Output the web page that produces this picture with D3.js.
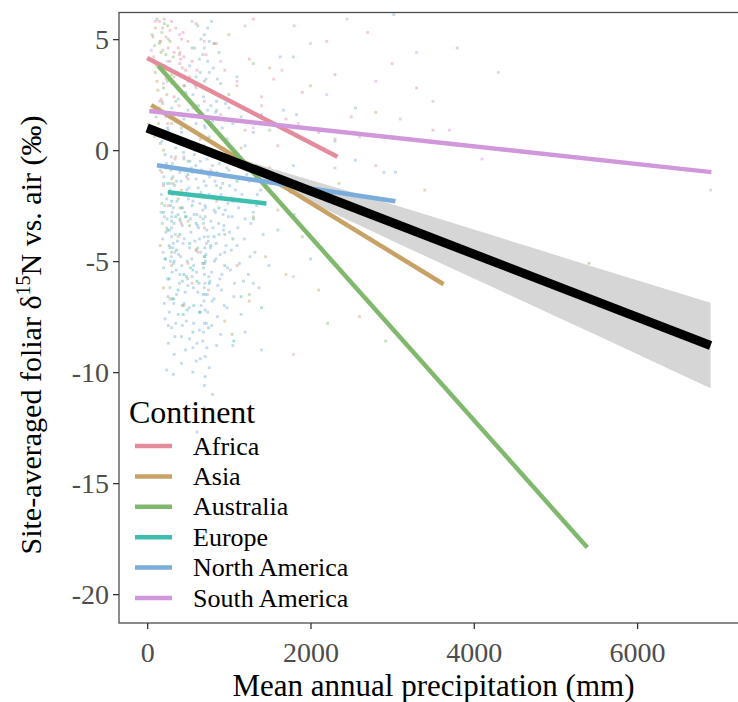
<!DOCTYPE html>
<html>
<head>
<meta charset="utf-8">
<script src="https://cdn.jsdelivr.net/npm/d3@7"></script>
<style>
  html, body { margin: 0; padding: 0; background: #fff; }
  svg { display: block; font-family: "Liberation Serif", "Times New Roman", serif; }
</style>
</head>
<body>
<svg id="chart" width="738" height="702"></svg>
<script>
// Continents in legend order, with their colours
const continents = ["Africa", "Asia", "Australia", "Europe", "North America", "South America"];
const continentColors = ["#E58C9C", "#C8A265", "#80B96E", "#3DBEAE", "#7BADDC", "#D197DB"];

// Per-continent regression lines: [x start, x end] in mm, [y start, y end] in per mil
const fitX = {
  "Africa": [0, 2330],
  "Asia": [50, 3630],
  "Australia": [135, 5390],
  "Europe": [255, 1460],
  "North America": [120, 3040],
  "South America": [25, 6910]
};
const fitY = {
  "Africa": [4.15, -0.3],
  "Asia": [2.03, -6.04],
  "Australia": [3.8, -17.9],
  "Europe": [-1.9, -2.4],
  "North America": [-0.68, -2.3],
  "South America": [1.76, -0.99]
};

// Overall regression line and its confidence band
const overallX = [0, 6900];
const overallY = [1.0, -8.8];
const bandX = [0, 500, 1000, 1500, 2000, 3000, 4000, 5000, 6000, 6900];
const bandLow = [0.75, 0.14, -0.62, -1.46, -2.34, -4.08, -5.78, -7.48, -9.18, -10.73];
const bandHigh = [1.25, 0.44, -0.22, -0.80, -1.34, -2.44, -3.58, -4.72, -5.86, -6.87];

// Site-averaged observations [precipitation mm, d15N per mil]
const pointsAfrica = [[150,5.8],[280,5.4],[420,5.0],[380,4.6],[450,4.2],[400,3.9],[360,3.5],[520,3.3],[300,3.0],[600,2.8],[480,2.5],[700,2.2],[560,1.9],[820,4.8],[950,3.6],[1100,2.9],[1250,4.1],[1400,2.4],[1550,3.2],[1700,1.4],[1900,2.6],[2100,0.8],[2300,3.4],[2500,1.5],[2800,-0.7],[3300,2.8],[3500,0.9],[3800,4.6],[1200,0.9],[900,1.6],[650,0.5],[250,1.2],[180,2.2],[340,-0.4],[500,-1.3],[780,-0.9],[1000,-2.2],[420,-3.3],[620,-4.6],[200,-1.6],[1300,5.9],[1800,5.6],[2200,4.9],[2700,5.3],[3000,3.9],[1600,0.2],[410,4.1],[395,4.3],[430,3.7],[385,3.4],[460,2.9],[230,5.1],[330,4.4],[470,3.6],
  [160,4.9],[210,3.8],[260,4.6],[300,5.8],[350,5.5],[440,5.3],[500,4.9],[550,4.0],[330,2.4],[270,3.3],[190,5.5],[610,3.6],[720,4.3],[390,2.0]];
const pointsAsia = [[100,5.5],[160,4.9],[80,4.2],[200,3.6],[120,3.1],[240,2.5],[150,1.9],[300,1.2],[90,0.6],[350,-0.3],[180,-1.0],[420,-1.8],[260,-2.5],[500,-3.2],[380,-3.9],[600,-4.5],[700,-3.5],[850,-2.3],[1000,-1.2],[1150,0.1],[1300,-3.0],[1450,-4.8],[1600,-2.7],[1900,-3.9],[2100,-6.3],[2350,-1.5],[2600,-7.5],[1700,-5.6],[1250,-6.8],[3400,-1.8],[2800,1.7],[2000,2.9],[1500,3.7],[850,4.8],[600,5.7],[1000,5.2],[400,4.4],[2300,0.5],[3200,-4.0],[2900,-3.1],[950,-7.7],[550,-6.0],[300,-5.2],[450,-7.0],[750,-6.3],[1100,-5.2],[1500,-0.8],[1750,-1.9],[210,5.9],[130,2.7],
  [70,5.1],[110,3.8],[190,4.5],[230,3.2],[170,2.3],[280,4.0],[330,3.3],[260,5.0],[140,1.2],[200,0.0],[320,-1.5],[240,-3.5],[400,-2.6],[160,-4.3],[280,-6.7],[500,-5.1],[650,-3.0],[200,-6.2]];
const pointsAustralia = [[120,5.9],[180,5.3],[90,4.7],[230,4.3],[140,3.9],[300,3.4],[200,2.8],[350,2.2],[260,1.6],[420,1.0],[160,0.3],[500,-0.5],[300,-1.3],[650,-2.0],[400,-3.1],[800,-1.0],[950,-3.8],[1100,-0.2],[550,4.6],[700,3.1],[850,1.8],[1000,2.5],[1300,3.9],[1500,0.9],[620,-4.4],[480,-5.7],[1250,-6.5],[2210,-7.8],[2920,-8.6],[5410,-5.1],[1040,-8.3],[250,5.6],[170,4.4],
  [60,5.2],[100,3.5],[150,4.8],[210,5.7],[250,3.1],[280,4.9],[320,4.2],[190,2.1],[110,1.5],[230,-0.8],[350,0.5],[380,-2.2],[450,2.9],[600,2.0],[520,-3.4],[700,-5.1],[300,-4.6],[180,-2.4]];
const pointsEurope = [[250,-1.5],[300,-2.3],[350,-3.0],[400,-3.8],[280,-4.4],[330,-5.0],[450,-5.6],[520,-4.2],[600,-3.3],[650,-2.1],[700,-4.8],[760,-6.0],[820,-3.9],[880,-2.6],[950,-5.2],[1050,-4.0],[1150,-6.6],[1300,-3.1],[380,-6.3],[430,-7.0],[560,-5.4],[640,-7.3],[750,-8.0],[250,-3.6],[300,-0.8],[500,-1.1],[900,-1.7],[1400,-7.1],[1100,-1.4],[200,-2.8],[530,-5.3],[430,-5.9],[490,-7.2],[570,-7.0],[440,-7.4],[650,-7.3],[560,-8.2],[1060,-8.6],
  [220,-4.9],[270,-5.8],[320,-6.7],[360,-4.5],[470,-3.0],[610,-5.9],[690,-6.5],[780,-4.3],[370,-1.9],[420,-2.6],[550,-2.5],[300,-3.2]];
const pointsNorthAmerica = [[620,5.6],[700,5.2],[760,4.9],[580,4.6],[680,4.3],[740,4.0],[810,3.7],[650,3.5],[720,3.2],[590,2.9],[770,2.7],[690,2.4],[850,2.2],[630,2.0],[740,1.8],[560,1.5],[800,1.3],[900,3.0],[960,2.1],[1050,1.2],[520,3.8],[470,2.6],[880,4.4],[1100,3.3],[300,1.9],[380,2.3],[250,1.0],[420,0.8],[980,0.5],[1200,0.2],
  [180,0.4],[220,-0.2],[260,0.9],[310,-0.6],[350,0.1],[400,-1.0],[450,-0.4],[500,0.3],[540,-0.8],[600,-1.3],[650,-0.5],[700,0.2],[750,-1.1],[800,-0.7],[850,-1.6],[900,-0.3],[950,-1.2],[1000,-0.9],[1080,-1.8],[1150,-0.6],[1250,-1.4],[1350,-2.0],[1450,-1.1],[200,-1.5],[240,-2.2],[280,-1.8],[320,-2.6],[360,-1.4],[410,-2.0],[460,-2.8],[510,-1.7],[560,-2.3],[610,-2.9],[660,-1.9],[710,-2.5],[760,-2.0],[820,-2.7],[870,-2.2],[930,-2.9],[990,-2.4],[1040,-3.0],[1120,-2.6],[1200,-3.1],[1300,-2.8],[170,-2.8],[210,-3.0],[290,-0.9],[330,-3.3],[380,-2.9],[430,-3.4],[480,-1.2],[530,-3.1],[580,-0.2],[630,-3.5],[680,-2.7],[730,-3.6],[780,-3.2],[830,-1.4],[880,-3.8],[940,-3.4],[1010,-3.7],
  [190,-4.0],[230,-3.7],[270,-4.3],[300,-3.9],[340,-4.6],[370,-4.1],[410,-4.8],[440,-4.2],[490,-5.0],[520,-4.4],[570,-5.2],[600,-4.5],[640,-4.0],[690,-5.3],[720,-4.7],[750,-4.1],[790,-5.5],[840,-4.9],[890,-5.8],[950,-4.6],[1020,-5.4],[1100,-4.3],[1180,-5.9],[1260,-4.8],[200,-5.3],[250,-5.8],[280,-6.2],[320,-5.1],[360,-6.5],[400,-5.6],[450,-6.9],[500,-6.1],[550,-5.7],[620,-6.4],[660,-7.0],[700,-6.2],[740,-7.3],[770,-5.9],[820,-6.7],[860,-7.5],[910,-6.3],[980,-7.1],[1060,-6.6],[1150,-7.4],[1300,-6.0],
  [220,-7.6],[300,-8.0],[260,-8.7],[350,-7.8],[420,-8.4],[480,-7.7],[560,-8.9],[640,-8.1],[700,-7.8],[710,-9.3],[680,-8.6],[760,-9.8],[600,-9.5],[330,-9.2],[240,-9.9],[710,-10.2],[700,-10.6],[610,-12.7],[900,-8.3],[1050,-8.8],[1200,-8.2],[1400,-9.0],[800,-11.0],
  [705,-2.1],[712,-3.0],[698,-3.9],[706,-4.4],[715,-5.0],[702,-5.6],[708,-6.0],[696,-6.8],[710,-7.2],[704,-1.0],[700,-0.1],[712,1.0],[300,-3.0],[310,-2.0],[295,-4.8],[305,-5.5],[315,-1.2],[290,-2.5],[720,-1.6],[690,-3.3],[725,-4.2],[695,-5.1],[718,-6.5],[300,-3.5],[285,-1.5],[320,-4.2],
  [1630,4.2],[1790,4.2],[1670,1.8],[1830,1.6],[2550,1.9],[3040,-1.0],[2550,-0.45],[1790,-0.7],[3020,6.1],[1600,-3.6],[1800,-2.9],[2000,-4.9],[2300,0.4],[3200,-4.2],[2900,-1.0],[2500,-2.0],
  [160,-0.9],[175,-2.0],[185,-3.3],[195,-4.6],[205,-1.2],[215,-2.5],[225,-4.9],[235,-0.6],[245,-3.1],[255,-6.6],[265,-1.9],[275,-3.6],[285,-5.0],[295,-0.3],[305,-2.8],[315,-4.4],[325,-6.9],[335,-1.6],[345,-3.8],[355,-5.4],[365,-2.3],[375,-0.8],[385,-4.7],[395,-6.0],[405,-3.2],[415,-1.4],[425,-5.2],[435,-2.6],[445,-0.1],[455,-4.0],[465,-6.4],[475,-3.0],[485,-1.8],[495,-5.8],[505,-2.2],[515,-7.1],[525,-0.5],[535,-3.7],[545,-4.9],[555,-1.0],[565,-6.2],[575,-2.9],[585,-4.1],[595,-0.7],[605,-5.5],[615,-3.4],[625,-1.7],[635,-6.0],[645,-2.4],[655,-4.6],[665,-0.9],[675,-5.1],[685,-3.1],[695,-1.4],[705,-4.8],[715,-2.6],[725,-7.8],[735,-0.4],[745,-3.9],[755,-5.7],[765,-1.2],[775,-4.4],[785,-2.1],[795,-6.8],[805,-3.5],[815,-0.2],[825,-5.0],[835,-2.8],[845,-4.2],[855,-1.0],[865,-6.1],[875,-3.3],[885,-0.6],[895,-4.7],[905,-2.0],[915,-5.6],[925,-1.5],[935,-3.6],[945,-7.0],[955,-2.7],[965,-4.3],[975,-0.8],[985,-5.3],[995,-3.0],[1010,-1.6],[1030,-4.5],[1050,-2.3],[1070,-6.0],[1090,-0.4],[1110,-3.5],[1130,-5.1],[1160,-2.0],[1190,-4.0],[1220,-1.1],[1240,-5.6],[1270,-3.3],[1290,-0.7],[1320,-4.6],[1340,-2.5],[1370,-6.2],[1390,-1.8],[1420,-3.8],[1460,-0.9],[1490,-5.2],
  [560,2.5],[600,3.3],[640,4.1],[660,5.0],[700,4.6],[720,2.8],[760,3.5],[780,2.0],[820,4.8],[840,1.7],[860,3.2],[680,1.6],[740,5.5],[790,5.8],[700,1.1],[640,0.7],[600,1.2],[500,1.8],[450,1.4],[350,1.3],[280,0.6],[230,1.5],[920,1.0],[1000,1.9],[1150,1.5],[1300,0.8],[1400,1.6],[760,0.6],[830,0.9],[580,0.0],
  [210,-6.9],[270,-7.3],[310,-6.7],[340,-8.4],[380,-7.4],[430,-7.9],[470,-9.0],[520,-8.5],[570,-7.8],[610,-8.7],[650,-9.4],[690,-8.2],[730,-8.9],[790,-7.9],[850,-8.8],[320,-10.1],[560,-10.0],[700,-11.6],[420,-9.6],[260,-7.9]];
const pointsSouthAmerica = [[50,4.5],[200,3.0],[400,5.2],[600,1.8],[900,4.0],[1200,5.6],[1400,2.0],[1650,3.6],[1850,1.2],[2000,4.8],[2200,2.5],[2450,5.9],[2600,0.6],[2800,3.1],[3100,1.4],[3300,4.4],[3500,2.2],[3700,0.9],[4300,3.5],[4100,-0.4],[6900,-1.8],[1000,-0.5],[300,0.7],[1600,-1.2],[2300,-0.8],[740,-6.5],[1790,-5.7],[1790,-9.2],
  [100,5.8],[150,2.2],[250,4.0],[500,3.1],[700,4.9],[800,0.3],[1100,3.1],[1300,1.0],[550,5.8],[450,-0.3]];

const xTicks = [0, 2000, 4000, 6000];
const yTicks = [5, 0, -5, -10, -15, -20];

const svg = d3.select("#chart");
const panel = { left: 119, right: 740, top: 12.5, bottom: 623 };

const x = d3.scaleLinear().domain([-345, 7260]).range([panel.left, panel.right]);
const y = d3.scaleLinear().domain([-21.3, 6.2]).range([panel.bottom, panel.top]);
const color = d3.scaleOrdinal().domain(continents).range(continentColors);

svg.append("defs").append("clipPath").attr("id", "panel-clip")
  .append("rect")
  .attr("x", panel.left).attr("y", panel.top)
  .attr("width", panel.right - panel.left).attr("height", panel.bottom - panel.top);

const plot = svg.append("g").attr("clip-path", "url(#panel-clip)");

// Scatter of observations
const pointSets = {
  "Africa": pointsAfrica,
  "Asia": pointsAsia,
  "Australia": pointsAustralia,
  "Europe": pointsEurope,
  "North America": pointsNorthAmerica,
  "South America": pointsSouthAmerica
};
const drawOrder = ["North America", "Europe", "Asia", "Australia", "Africa", "South America"];
drawOrder.forEach(c => {
  plot.append("g").selectAll("rect")
    .data(pointSets[c])
    .join("rect")
    .attr("x", d => x(d[0]) - 1.4)
    .attr("y", d => y(d[1]) - 1.4)
    .attr("width", 2.8)
    .attr("height", 2.8)
    .attr("fill", color(c))
    .attr("fill-opacity", 0.45);
});

// Confidence band of the overall fit
const band = bandX.map((v, i) => ({ x: v, lo: bandLow[i], hi: bandHigh[i] }));
plot.append("path")
  .datum(band)
  .attr("fill", "#D6D6D6")
  .attr("d", d3.area().x(d => x(d.x)).y0(d => y(d.lo)).y1(d => y(d.hi)).curve(d3.curveMonotoneX));

// Per-continent fits
const line = d3.line().x(d => x(d[0])).y(d => y(d[1]));
continents.forEach(c => {
  const pts = fitX[c].map((v, i) => [v, fitY[c][i]]);
  plot.append("path")
    .datum(pts)
    .attr("fill", "none")
    .attr("stroke", color(c))
    .attr("stroke-width", 4.5)
    .attr("d", line);
});

// Overall fit
plot.append("path")
  .datum(overallX.map((v, i) => [v, overallY[i]]))
  .attr("fill", "none")
  .attr("stroke", "#000")
  .attr("stroke-width", 9)
  .attr("d", line);

// Panel border
svg.append("rect")
  .attr("x", panel.left).attr("y", panel.top)
  .attr("width", panel.right - panel.left).attr("height", panel.bottom - panel.top)
  .attr("fill", "none").attr("stroke", "#4d4d4d").attr("stroke-width", 1.3);

// Axes
const xAxis = svg.append("g")
  .attr("transform", `translate(0,${panel.bottom})`)
  .call(d3.axisBottom(x).tickValues(xTicks).tickSize(6).tickPadding(4).tickFormat(d3.format("d")));
const yAxis = svg.append("g")
  .attr("transform", `translate(${panel.left},0)`)
  .call(d3.axisLeft(y).tickValues(yTicks).tickSize(6).tickPadding(4).tickFormat(d => d < 0 ? "-" + Math.abs(d) : d));
[xAxis, yAxis].forEach(a => {
  a.select(".domain").remove();
  a.selectAll(".tick line").attr("stroke", "#333").attr("stroke-width", 1.3);
  a.selectAll(".tick text")
    .attr("fill", "#4d4d4d")
    .style("font-family", "'Liberation Serif', serif")
    .style("font-size", "28px");
});
xAxis.selectAll(".tick text").attr("dy", "1.05em");

// Axis titles
svg.append("text")
  .attr("x", (panel.left + panel.right) / 2 + 4)
  .attr("y", 696)
  .attr("text-anchor", "middle")
  .style("font-size", "31px")
  .text("Mean annual precipitation (mm)");

const yTitle = svg.append("text")
  .attr("transform", `translate(41,335) rotate(-90)`)
  .attr("text-anchor", "middle")
  .style("font-size", "30px");
yTitle.append("tspan").text("Site-averaged foliar δ");
yTitle.append("tspan").attr("dy", -11).style("font-size", "20px").text("15");
yTitle.append("tspan").attr("dy", 11).text("N vs. air (‰)");

// Legend
const legend = svg.append("g");
legend.append("text")
  .attr("x", 129).attr("y", 423)
  .style("font-size", "32px")
  .text("Continent");
continents.forEach((c, i) => {
  const cy = 446 + i * 30.4;
  legend.append("line")
    .attr("x1", 135).attr("x2", 172)
    .attr("y1", cy).attr("y2", cy)
    .attr("stroke", color(c)).attr("stroke-width", 4.5);
  legend.append("text")
    .attr("x", 193).attr("y", cy + 8.5)
    .style("font-size", "26px")
    .text(c);
});
</script>
</body>
</html>
